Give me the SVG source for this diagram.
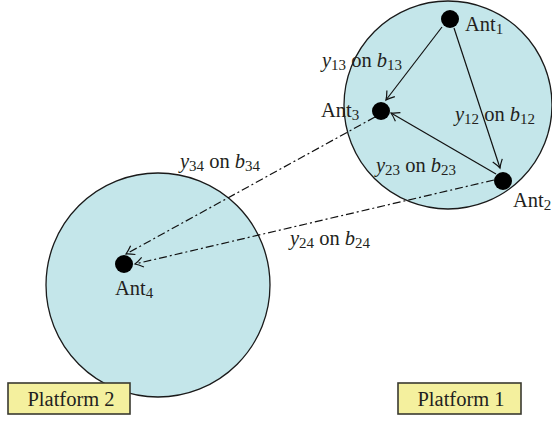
<svg xmlns="http://www.w3.org/2000/svg" width="552" height="421" viewBox="0 0 552 421">
<style>
.plat{fill:#c4e6ea;stroke:#1a1a1a;stroke-width:1.3}
.ant{fill:#000}
.t{font-family:"Liberation Serif","Times New Roman",serif;font-size:20.5px;fill:#231f20}
.i{font-style:italic}
.s{font-size:15px}
.box{fill:#f4f09e;stroke:#3a3a30;stroke-width:1.6}
.solid{fill:none;stroke:#111;stroke-width:1.2}
.dd{fill:none;stroke:#111;stroke-width:1.2;stroke-dasharray:8 3 2 3}
</style>
<defs>
<marker id="ah" viewBox="-10 -6 12 12" refX="0" refY="0" markerWidth="12" markerHeight="12" markerUnits="userSpaceOnUse" orient="auto">
<path d="M-8,-5 Q-3,-1.3 0,0 Q-3,1.3 -8,5" fill="none" stroke="#111" stroke-width="1.2"/>
</marker>
</defs>
<g id="platform1"><circle class="plat" cx="448" cy="105" r="104"/></g>
<g id="platform2"><circle class="plat" cx="158" cy="285" r="112"/></g>
<g id="connectors">
<line class="solid" x1="442" y1="27" x2="386" y2="100" marker-end="url(#ah)"/>
<line class="solid" x1="454" y1="28" x2="500" y2="168" marker-end="url(#ah)"/>
<line class="solid" x1="496" y1="174" x2="391" y2="113" marker-end="url(#ah)"/>
<line class="dd" x1="375" y1="117" x2="126" y2="254" marker-end="url(#ah)"/>
<line class="dd" x1="494" y1="180" x2="135" y2="264" marker-end="url(#ah)"/>
</g>
<g id="ant1"><circle class="ant" cx="450" cy="19" r="9"/><text class="t" x="465" y="31">Ant<tspan class="s" dy="3">1</tspan></text></g>
<g id="ant3"><circle class="ant" cx="381" cy="111" r="9"/><text class="t" x="321" y="117">Ant<tspan class="s" dy="3">3</tspan></text></g>
<g id="ant2"><circle class="ant" cx="503" cy="181" r="9"/><text class="t" x="513" y="207">Ant<tspan class="s" dy="3">2</tspan></text></g>
<g id="ant4"><circle class="ant" cx="124" cy="264" r="9"/><text class="t" x="115" y="295">Ant<tspan class="s" dy="3">4</tspan></text></g>
<g id="labels">
<text class="t" x="322" y="67"><tspan class="i">y</tspan><tspan class="s" dy="3">13</tspan><tspan dy="-3"> on </tspan><tspan class="i">b</tspan><tspan class="s" dy="3">13</tspan></text>
<text class="t" x="455" y="121"><tspan class="i">y</tspan><tspan class="s" dy="3">12</tspan><tspan dy="-3"> on </tspan><tspan class="i">b</tspan><tspan class="s" dy="3">12</tspan></text>
<text class="t" x="376" y="172"><tspan class="i">y</tspan><tspan class="s" dy="3">23</tspan><tspan dy="-3"> on </tspan><tspan class="i">b</tspan><tspan class="s" dy="3">23</tspan></text>
<text class="t" x="180" y="168"><tspan class="i">y</tspan><tspan class="s" dy="3">34</tspan><tspan dy="-3"> on </tspan><tspan class="i">b</tspan><tspan class="s" dy="3">34</tspan></text>
<text class="t" x="290" y="245"><tspan class="i">y</tspan><tspan class="s" dy="3">24</tspan><tspan dy="-3"> on </tspan><tspan class="i">b</tspan><tspan class="s" dy="3">24</tspan></text>
</g>
<g id="box2"><rect class="box" x="8" y="383" width="122" height="31"/><text class="t" x="71" y="406" text-anchor="middle">Platform 2</text></g>
<g id="box1"><rect class="box" x="398" y="383" width="123" height="31"/><text class="t" x="461" y="406" text-anchor="middle">Platform 1</text></g>
</svg>
